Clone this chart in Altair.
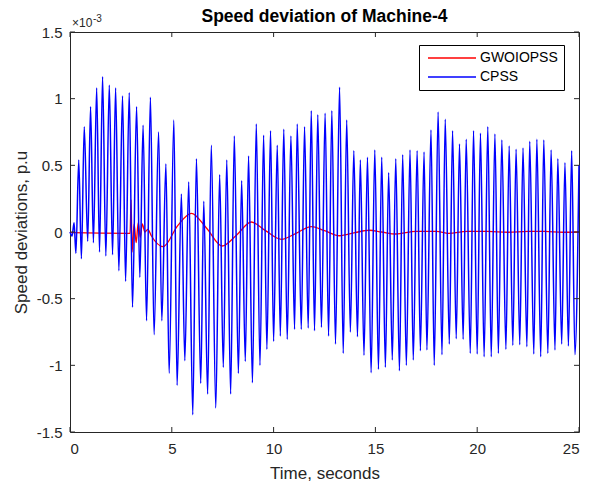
import altair as alt
import pandas as pd

# ---------------- data (values in units of 1e-3 p.u.) ----------------
start_t = [0.0, 0.10, 0.20, 0.29]
start_v = [0.0, -0.03, 0.07, -0.16]

peak_t = [0.43, 0.70, 1.01, 1.31, 1.60, 1.93, 2.24, 2.58, 2.91, 3.27, 3.59, 3.95,
          4.35, 4.71, 5.10, 5.47, 5.83, 6.21, 6.57, 6.94, 7.35, 7.70, 8.07, 8.43,
          8.77, 9.15, 9.51, 9.85, 10.18, 10.50, 10.85, 11.16, 11.52, 11.85, 12.17,
          12.53, 12.86, 13.24, 13.59, 13.94, 14.26, 14.61, 14.97, 15.31, 15.65,
          16.00, 16.34, 16.70, 17.05, 17.39, 17.73, 18.08, 18.43, 18.79, 19.13,
          19.46, 19.82, 20.16, 20.52, 20.87, 21.21, 21.57, 21.91, 22.25, 22.58,
          22.93, 23.27, 23.63, 23.96, 24.31, 24.64]
peak_v = [0.54, 0.79, 0.94, 1.08, 1.165, 1.10, 1.08, 1.02, 1.045, 0.94, 0.80, 1.01,
          0.75, 0.51, 0.84, 0.285, 0.375, 0.55, 0.23, 0.65, 0.43, 0.54, 0.72, 0.385,
          0.57, 0.81, 0.725, 0.76, 0.65, 0.77, 0.72, 0.81, 0.79, 0.91, 0.88,
          0.89, 0.91, 1.085, 0.84, 0.61, 0.54, 0.56, 0.615, 0.56, 0.445,
          0.55, 0.58, 0.615, 0.61, 0.60, 0.765, 0.90, 0.845, 0.76, 0.66,
          0.695, 0.76, 0.74, 0.79, 0.735, 0.69, 0.645, 0.62, 0.63, 0.68,
          0.695, 0.69, 0.615, 0.55, 0.52, 0.61]

trough_t = [0.56, 0.87, 1.15, 1.45, 1.76, 2.09, 2.40, 2.73, 3.07, 3.43, 3.76, 4.13,
            4.51, 4.87, 5.26, 5.64, 6.03, 6.42, 6.76, 7.16, 7.53, 7.89, 8.27, 8.61,
            8.96, 9.33, 9.67, 10.00, 10.33, 10.67, 11.03, 11.36, 11.70, 12.01, 12.35,
            12.70, 13.04, 13.42, 13.77, 14.12, 14.44, 14.79, 15.15, 15.49, 15.83,
            16.18, 16.52, 16.86, 17.21, 17.53, 17.89, 18.27, 18.63, 18.97, 19.31,
            19.66, 20.00, 20.34, 20.69, 21.04, 21.41, 21.75, 22.09, 22.44, 22.78,
            23.12, 23.47, 23.82, 24.15, 24.48, 24.80]
trough_v = [-0.20, -0.07, -0.08, -0.15, -0.18, -0.17, -0.29, -0.37, -0.565, -0.34, -0.665, -0.77,
            -0.665, -1.06, -1.15, -0.965, -1.37, -1.135, -1.215, -1.32, -1.015, -1.215, -1.06, -0.97,
            -1.13, -1.00, -0.88, -0.82, -0.78, -0.805, -0.73, -0.73, -0.72, -0.74, -0.715,
            -0.78, -0.84, -0.91, -0.75, -0.785, -0.925, -1.055, -1.03, -1.015, -0.96,
            -1.04, -1.00, -0.96, -0.89, -0.885, -1.00, -0.92, -0.84, -0.80, -0.805,
            -0.91, -0.915, -0.935, -0.935, -0.91, -0.88, -0.85, -0.845, -0.86, -0.915,
            -0.935, -0.91, -0.885, -0.84, -0.855, -0.92]

end_t = [25.0]
end_v = [0.50]

gw_t = [0.0, 0.10, 2.95, 3.00, 3.05, 3.15, 3.25, 3.35, 3.45, 3.55, 3.68, 3.82, 4.00,
        4.57, 5.30, 5.96, 6.70, 7.47, 8.20, 8.90, 9.60, 10.38, 11.10, 11.85, 12.50,
        13.24, 14.00, 14.70, 15.30, 16.00, 17.00, 18.00, 18.60, 19.50, 20.50, 21.50,
        22.50, 23.30, 24.20, 25.0]
gw_v = [0.0, -0.005, -0.01, 0.24, -0.15, 0.06, -0.08, 0.07, -0.04, 0.06, 0.0, 0.02, -0.03,
        -0.11, 0.05, 0.14, 0.03, -0.105, -0.02, 0.075, 0.01, -0.055, -0.01, 0.04, 0.01,
        -0.028, -0.005, 0.013, 0.0, -0.015, 0.005, 0.005, -0.01, 0.005, 0.005, -0.002,
        0.005, 0.005, -0.002, 0.0]

series_names = ["GWOIOPSS", "CPSS"]
series_colors = ["#ff0000", "#0000ff"]
x_ticks = [0, 5, 10, 15, 20, 25]
y_ticks = [-1.5, -1.0, -0.5, 0.0, 0.5, 1.0, 1.5]
title_text = ["Speed deviation of Machine-4"]
exp_base = ["×10"]
exp_power = ["-3"]

# ---------------- tables ----------------
cpss = pd.DataFrame({"t": start_t + peak_t + trough_t + end_t,
                     "v": start_v + peak_v + trough_v + end_v}).sort_values("t")
cpss["series"] = "CPSS"
gw = pd.DataFrame({"t": gw_t, "v": gw_v})
gw["series"] = "GWOIOPSS"
xt = pd.DataFrame({"t": x_ticks})
yt = pd.DataFrame({"v": y_ticks})

W, H = 509, 400
FONT = "Liberation Sans"
AX = "#262626"

legend = alt.Legend(
    title=None, orient="none", legendX=349, legendY=13,
    symbolType="M-8,0L8,0", symbolSize=36, symbolStrokeWidth=1.3,
    symbolOffset=20, labelOffset=21,
    labelFont=FONT, labelFontSize=14, labelColor="black",
    strokeColor="black", fillColor="white", padding=6, rowPadding=5,
)
color = alt.Color("series:N",
                  scale=alt.Scale(domain=series_names, range=series_colors),
                  legend=legend)

xenc = alt.X("t:Q", scale=alt.Scale(domain=[0, 25], nice=False, zero=False),
             axis=alt.Axis(values=x_ticks, title="Time, seconds", labelPadding=9,
                           titlePadding=9))
yenc = alt.Y("v:Q", scale=alt.Scale(domain=[-1.5, 1.5], nice=False),
             axis=alt.Axis(values=y_ticks, labelExpr="datum.value + ''",
                           title="Speed deviations, p.u", labelPadding=8,
                           titlePadding=6))

red = alt.Chart(gw).mark_line(strokeWidth=1.3, interpolate="monotone").encode(
    x=xenc, y=yenc, color=color)
blue = alt.Chart(cpss).mark_line(strokeWidth=1.5, interpolate="monotone").encode(
    x="t:Q", y="v:Q", color=color)

tick_style = dict(color=AX, strokeWidth=1)
bot = alt.Chart(xt).mark_rule(**tick_style).encode(x="t:Q", y=alt.value(H), y2=alt.value(H - 5))
top = alt.Chart(xt).mark_rule(**tick_style).encode(x="t:Q", y=alt.value(0), y2=alt.value(5))
left = alt.Chart(yt).mark_rule(**tick_style).encode(y="v:Q", x=alt.value(0), x2=alt.value(5))
right = alt.Chart(yt).mark_rule(**tick_style).encode(y="v:Q", x=alt.value(W), x2=alt.value(W - 5))

exp1 = alt.Chart(pd.DataFrame({"s": exp_base})).mark_text(
    align="left", baseline="alphabetic", font=FONT, fontSize=12, color=AX
).encode(text="s:N", x=alt.value(2), y=alt.value(-5))
exp2 = alt.Chart(pd.DataFrame({"s": exp_power})).mark_text(
    align="left", baseline="alphabetic", font=FONT, fontSize=10, color=AX
).encode(text="s:N", x=alt.value(23), y=alt.value(-10))
ttl = alt.Chart(pd.DataFrame({"s": title_text})).mark_text(
    align="center", baseline="alphabetic", font=FONT, fontSize=17.5,
    fontWeight="bold", color="black"
).encode(text="s:N", x=alt.value(W / 2), y=alt.value(-10.5))

chart = alt.layer(red, blue, bot, top, left, right, exp1, exp2, ttl).properties(
    width=W, height=H,
    autosize=alt.AutoSizeParams(type="none"),
    padding={"left": 70, "top": 32, "right": 17, "bottom": 53},
    background="white",
).configure_view(stroke=AX, strokeWidth=1).configure_axis(
    domain=False, ticks=False, grid=False,
    labelFont=FONT, labelFontSize=15, labelColor=AX,
    titleFont=FONT, titleFontSize=17, titleFontWeight="normal", titleColor=AX,
)

chart.save("out.html", embed_options={"renderer": "svg", "actions": False})
